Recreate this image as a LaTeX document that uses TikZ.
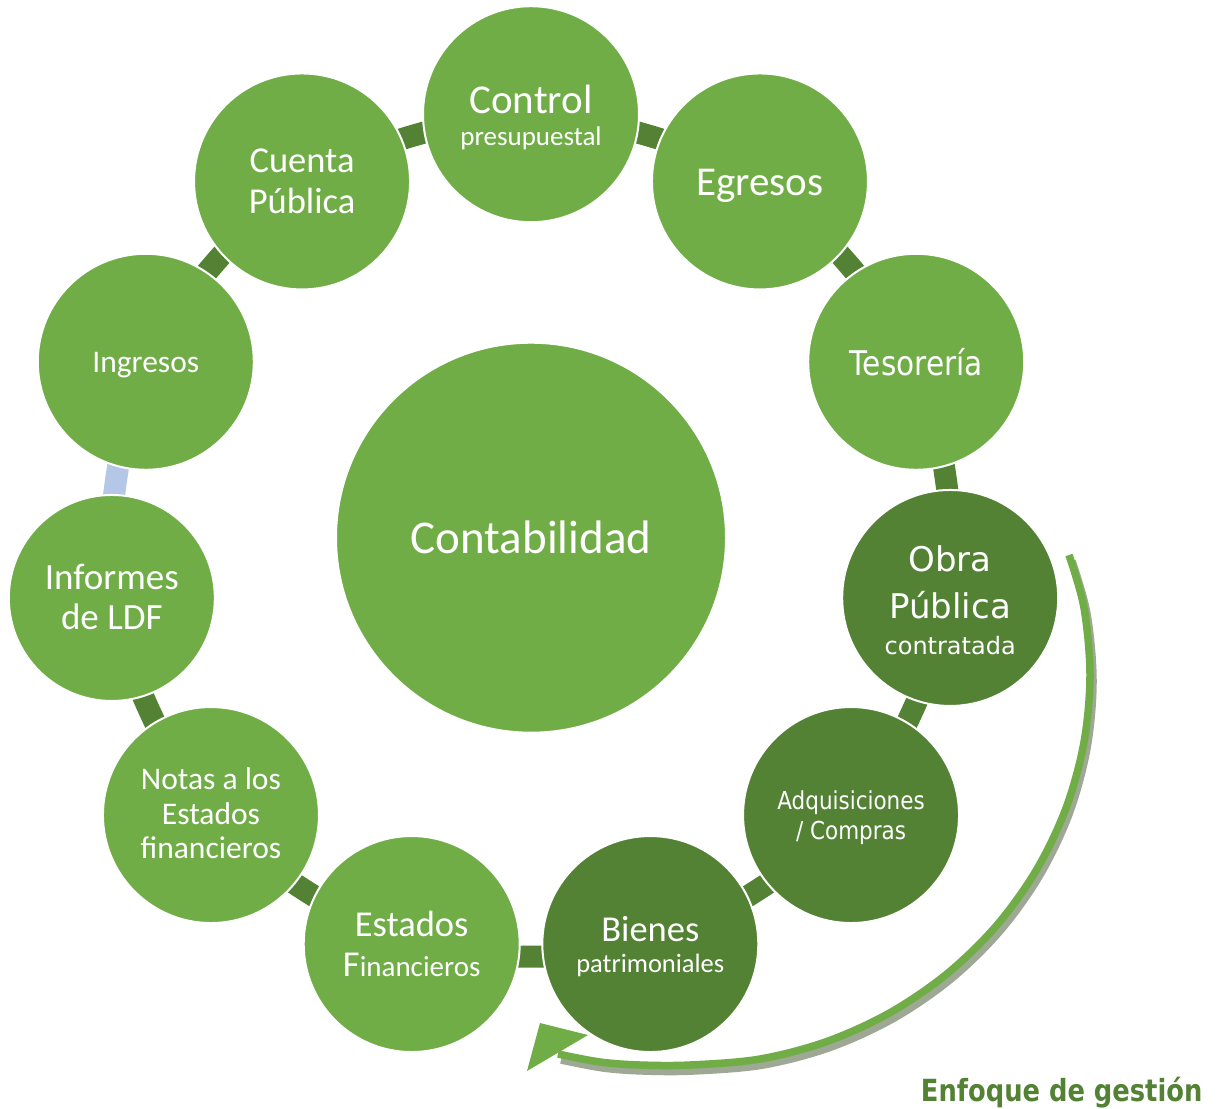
\documentclass[tikz,border=0pt]{standalone}
\usepackage{fontspec}
\setmainfont{Carlito}
\newfontfamily\vfont{DejaVu Sans}
\newfontfamily\tfont[FakeStretch=0.87]{DejaVu Sans}
\newfontfamily\tbfont[FakeStretch=0.845]{DejaVu Sans}
\usetikzlibrary{calc}
\definecolor{lgreen}{RGB}{112,173,71}
\definecolor{dgreen}{RGB}{84,130,53}
\definecolor{lblue}{RGB}{180,199,231}
\definecolor{shadowc}{RGB}{158,168,148}
\pgfdeclarelayer{back}
\pgfdeclarelayer{bg}
\pgfsetlayers{back,bg,main}
\begin{document}
\begin{tikzpicture}[x=1pt,y=-1pt,
  ring/.style={circle, draw=white, line width=2pt, fill=lgreen, minimum size=216pt, inner sep=0pt},
  dark/.style={fill=dgreen},
  txt/.style={inner sep=0pt, text=white, align=center},
  link/.style={line width=22pt, draw=dgreen},
  bluelink/.style={line width=22pt, draw=lblue},
  arrowline/.style={line width=7.5pt, draw=lgreen},
  arrowshadow/.style={line width=7.5pt, draw=shadowc},
]
\useasboundingbox (0,0) rectangle (1220,1108);
\begin{pgfonlayer}{back}
\fill[white] (0,0) rectangle (1220,1108);
\end{pgfonlayer}

\coordinate (O) at (531,537.7);

% central circle
\node[ring, minimum size=390pt] (cont) at (O) {};
\node[txt, font=\fontsize{47}{50}\selectfont] (tcont) at (cont) {Contabilidad};

% ring of circles
\node[ring] (c0) at ($(O)+(-90:423.5)$) {};
\node[ring] (c1) at ($(O)+(-57.273:423.5)$) {};
\node[ring] (c2) at ($(O)+(-24.545:423.5)$) {};
\node[ring, dark] (c3) at ($(O)+(8.182:423.5)$) {};
\node[ring, dark] (c4) at ($(O)+(40.909:423.5)$) {};
\node[ring, dark] (c5) at ($(O)+(73.636:423.5)$) {};
\node[ring] (c6) at ($(O)+(106.364:423.5)$) {};
\node[ring] (c7) at ($(O)+(139.091:423.5)$) {};
\node[ring, minimum size=206pt] (c8) at ($(O)+(171.818:423.5)$) {};
\node[ring] (c9) at ($(O)+(204.545:423.5)$) {};
\node[ring] (c10) at ($(O)+(237.273:423.5)$) {};

% texts of the circles
\node[txt, font=\fontsize{27}{32}\selectfont] (t0) at ($(c0)+(0,3.5)$)
  {{\fontsize{41}{41}\selectfont Control}\\presupuestal};
\node[txt, font=\fontsize{41}{44}\selectfont] (t1) at ($(c1)+(0,4)$) {Egresos};
\node[txt, font=\tfont\fontsize{34}{38}\selectfont] (t2) at (c2) {Tesorería};
\node[txt, font=\vfont\fontsize{24}{36}\selectfont] (t3) at ($(c3)+(0,2.5)$)
  {{\fontsize{34}{40}\selectfont Obra}\\[10.5pt]{\fontsize{34}{40}\selectfont Pública}\\contratada};
\node[txt, font=\tfont\fontsize{24.7}{29.5}\selectfont] (t4) at ($(c4)+(0,2.5)$)
  {Adquisiciones\\/ Compras};
\node[txt, font=\fontsize{26.5}{31.7}\selectfont] (t5) at ($(c5)+(0,2.5)$)
  {{\fontsize{36.5}{40}\selectfont Bienes}\\patrimoniales};
\node[txt, font=\fontsize{29}{40}\selectfont] (t6) at ($(c6)+(0,-0.5)$)
  {{\fontsize{36.5}{40}\selectfont Estados}\\{\fontsize{36.5}{40}\selectfont F}inancieros};
\node[txt, font=\fontsize{31.5}{34.5}\selectfont] (t7) at ($(c7)+(0,-1.5)$)
  {Notas a los\\Estados\\financieros};
\node[txt, font=\fontsize{37}{40}\selectfont] (t8) at ($(c8)+(0,-1.5)$)
  {Informes\\de LDF};
\node[txt, font=\fontsize{31.5}{34}\selectfont] (t9) at ($(c9)+(0,3)$) {Ingresos};
\node[txt, font=\fontsize{36.5}{41}\selectfont] (t10) at (c10) {Cuenta\\Pública};

% connectors between neighbouring circles (behind the circles)
\begin{pgfonlayer}{bg}
\foreach \a/\b in {c0/c1,c1/c2,c2/c3,c3/c4,c4/c5,c5/c6,c6/c7,c7/c8,c9/c10,c10/c0}
  \draw[link] (\a.center) to[bend left=16.36, looseness=0.64] (\b.center);
\draw[bluelink] (c8.center) to[bend left=16.36, looseness=0.64] (c9.center);
\end{pgfonlayer}

% curved arrow "Enfoque de gestion"
\begin{scope}[shift={(3,6)}]
\draw[arrowshadow] plot[smooth, tension=0.55] coordinates {(1069,555) (1083.9,607.3) (1090,675) (1083.9,742.7) (1065.9,808.4) (1036.4,870) (996.4,925.7) (947.1,973.7) (890,1012.7) (826.8,1041.5) (759.5,1059.1) (690,1065) (640,1065) (600,1062) (558,1054)};
\end{scope}
\draw[arrowline] plot[smooth, tension=0.55] coordinates {(1069,555) (1083.9,607.3) (1090,675) (1083.9,742.7) (1065.9,808.4) (1036.4,870) (996.4,925.7) (947.1,973.7) (890,1012.7) (826.8,1041.5) (759.5,1059.1) (690,1065) (640,1065) (600,1062) (558,1054)};
\fill[lgreen] (540,1023) -- (588,1035) -- (527,1071) -- cycle;

\node[anchor=base, inner sep=0pt, text=dgreen, font=\tbfont\bfseries\fontsize{30.5}{34}\selectfont]
  (enf) at (1061.7,1101) {Enfoque de gestión};
\end{tikzpicture}
\end{document}
